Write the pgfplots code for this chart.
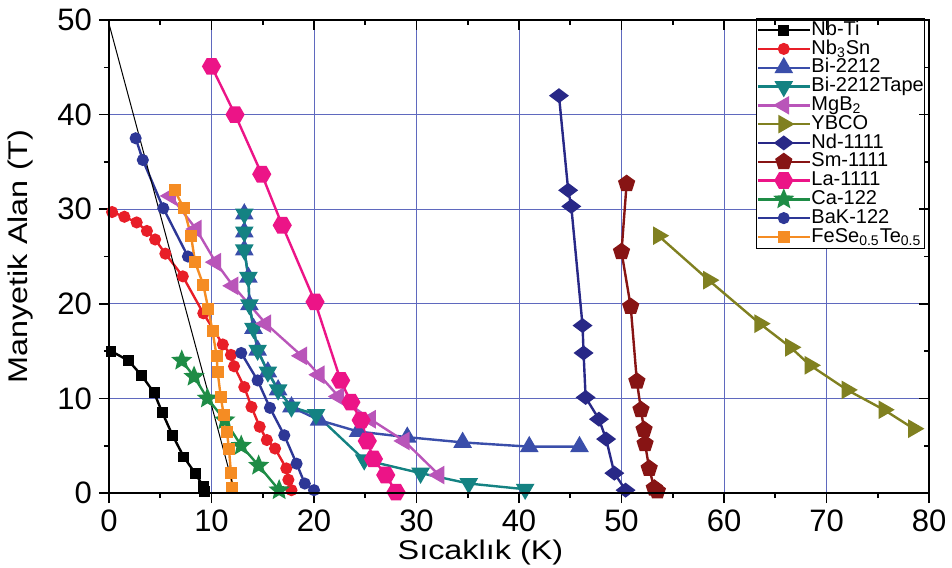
\documentclass[border=0pt]{standalone}
\usepackage{fontspec}
\setmainfont{Liberation Sans}
\newfontfamily\labelfont[FakeStretch=1.2]{Liberation Sans}
\usepackage{pgfplots}
\pgfplotsset{compat=1.18}
\usetikzlibrary{plotmarks}

\definecolor{nbsnred}{RGB}{232,30,40}
\definecolor{bitwo}{RGB}{58,78,170}
\definecolor{bitape}{RGB}{20,130,130}
\definecolor{mgbtwo}{RGB}{185,85,185}
\definecolor{ybco}{RGB}{128,128,32}
\definecolor{ndone}{RGB}{40,40,135}
\definecolor{smone}{RGB}{135,20,20}
\definecolor{laone}{RGB}{236,20,135}
\definecolor{catwo}{RGB}{30,140,70}
\definecolor{baktwo}{RGB}{45,55,150}
\definecolor{fese}{RGB}{245,140,35}
\definecolor{gridblue}{RGB}{95,105,190}

% filled hexagon and five-pointed star marks
\pgfdeclareplotmark{hexagon*}{%
  \pgfpathmoveto{\pgfqpointpolar{0}{\pgfplotmarksize}}%
  \pgfpathlineto{\pgfqpointpolar{60}{\pgfplotmarksize}}%
  \pgfpathlineto{\pgfqpointpolar{120}{\pgfplotmarksize}}%
  \pgfpathlineto{\pgfqpointpolar{180}{\pgfplotmarksize}}%
  \pgfpathlineto{\pgfqpointpolar{240}{\pgfplotmarksize}}%
  \pgfpathlineto{\pgfqpointpolar{300}{\pgfplotmarksize}}%
  \pgfpathclose\pgfusepathqfillstroke}
\pgfdeclareplotmark{fstar*}{%
  \pgfpathmoveto{\pgfqpointpolar{90}{\pgfplotmarksize}}%
  \pgfpathlineto{\pgfqpointpolar{126}{0.45\pgfplotmarksize}}%
  \pgfpathlineto{\pgfqpointpolar{162}{\pgfplotmarksize}}%
  \pgfpathlineto{\pgfqpointpolar{198}{0.45\pgfplotmarksize}}%
  \pgfpathlineto{\pgfqpointpolar{234}{\pgfplotmarksize}}%
  \pgfpathlineto{\pgfqpointpolar{270}{0.45\pgfplotmarksize}}%
  \pgfpathlineto{\pgfqpointpolar{306}{\pgfplotmarksize}}%
  \pgfpathlineto{\pgfqpointpolar{342}{0.45\pgfplotmarksize}}%
  \pgfpathlineto{\pgfqpointpolar{18}{\pgfplotmarksize}}%
  \pgfpathlineto{\pgfqpointpolar{54}{0.45\pgfplotmarksize}}%
  \pgfpathclose\pgfusepathqfillstroke}

\begin{document}
\begin{tikzpicture}
\begin{axis}[
  name=ax, scale only axis, width=410pt, height=236.5pt,
  xmin=0, xmax=80, ymin=0, ymax=50,
  xtick={0,10,...,80}, ytick={0,10,...,50}, minor tick num=1,
  xtick pos=left, ytick pos=left, tick align=outside,
  major tick length=5pt, minor tick length=2.5pt,
  tick style={black, line width=0.8pt},
  grid=major, major grid style={gridblue, line width=0.5pt},
  axis line style={line width=1pt},
  /pgf/number format/assume math mode=true,
  ticklabel style={font=\fontsize{15.5}{16}\selectfont},
  xlabel={Sıcaklık (K)}, ylabel={Manyetik Alan (T)},
  every axis x label/.style={at={(axis description cs:0.453,-0.126)}, anchor=center,
    inner sep=1pt, font=\labelfont\fontsize{13.5}{14}\selectfont},
  every axis y label/.style={at={(axis description cs:-0.1085,0.5)}, rotate=90, anchor=center,
    inner sep=1pt, font=\labelfont\fontsize{13.5}{14}\selectfont},
  unbounded coords=jump,
  every axis plot/.append style={line width=1.2pt},
  every mark/.append style={solid},
  legend cell align=left,
  legend image code/.code={\draw[mark repeat=2,mark phase=2] plot coordinates {(0pt,0pt) (13pt,0pt) (26pt,0pt)};},
  legend style={at={(0.995,1.004)}, anchor=north east, draw=black, line width=0.6pt,
    fill=white, font=\fontsize{10}{10}\selectfont, row sep=0pt,
    inner xsep=0pt, inner ysep=1pt,
    nodes={inner sep=0.25pt, text height=7pt, text depth=1.9pt}},
]
% Nb-Ti
\addplot[black, mark=square*, mark size=2.1pt] coordinates {
  (0.2,15.0) (1.9,14.0) (3.2,12.4) (4.4,10.6) (5.2,8.5) (6.2,6.1)
  (7.3,3.8) (8.4,2.1) (9.2,0.7) (9.3,0.2)};
\addlegendentry{Nb-Ti}
% Nb3Sn
\addplot[nbsnred, mark=*, mark size=2.4pt] coordinates {
  (0.3,29.7) (1.5,29.2) (2.7,28.6) (3.7,27.7) (4.5,26.8) (5.5,25.3)
  (7.2,22.9) (9.2,19.0) (11.1,15.7) (11.9,14.6) (12.2,13.4) (13.2,11.2)
  (13.9,9.1) (14.7,7.0) (15.4,5.6) (16.2,4.7) (17.3,2.6) (17.5,1.4) (17.8,0.3)};
\addlegendentry{Nb\textsubscript{3}Sn}
% Bi-2212
\addplot[bitwo, mark=triangle*, mark size=4.2pt] coordinates {
  (13.2,29.5) (13.2,27.6) (13.2,25.7) (13.6,22.8) (13.7,19.9) (14.1,17.4)
  (14.5,15.1) (15.5,12.8) (16.5,10.9) (17.8,9.1) (20.5,7.7) (24.3,6.5)
  (29.1,5.9) (34.5,5.35) (41.0,4.9) (45.9,4.9)};
\addlegendentry{Bi-2212}
% Bi-2212 tape
\addplot[bitape, mark=triangle*, mark size=4.2pt, mark options={rotate=180}] coordinates {
  (13.2,29.5) (13.2,27.6) (13.2,25.7) (13.6,22.8) (13.7,19.9) (14.1,17.4)
  (14.5,15.1) (15.5,12.8) (16.5,10.9) (17.8,9.1) (20.2,8.3) (24.9,3.5)
  (30.4,2.1) (35.1,1.0) (40.6,0.4)};
\addlegendentry{Bi-2212Tape}
% MgB2
\addplot[mgbtwo, mark=triangle*, mark size=4.2pt, mark options={rotate=90}] coordinates {
  (6.0,31.4) (8.5,27.9) (10.4,24.4) (12.1,21.9) (15.3,17.9) (18.8,14.5)
  (20.5,12.5) (22.4,10.2) (25.5,7.8) (28.8,5.5) (32.2,1.9)};
\addlegendentry{MgB\textsubscript{2}}
% YBCO
\addplot[ybco, mark=triangle*, mark size=4.2pt, mark options={rotate=-90}] coordinates {
  (53.6,27.2) (58.5,22.5) (63.5,17.9) (66.5,15.4) (68.4,13.5) (72.0,10.9)
  (75.6,8.8) (78.5,6.8)};
\addlegendentry{YBCO}
% Nd-1111
\addplot[ndone, mark=diamond*, mark size=4pt, mark options={rotate=90}] coordinates {
  (43.9,42.0) (44.8,32.0) (45.1,30.3) (46.2,17.7) (46.3,14.8) (46.5,10.1)
  (47.8,7.8) (48.5,5.7) (49.3,2.1) (50.4,0.3)};
\addlegendentry{Nd-1111}
% Sm-1111
\addplot[smone, mark=pentagon*, mark size=3.8pt] coordinates {
  (50.5,32.7) (50.0,25.5) (50.9,19.7) (51.5,11.8) (51.9,8.8) (52.2,6.7)
  (52.3,5.2) (52.7,2.6) (53.2,0.5) (53.5,0.2)};
\addlegendentry{Sm-1111}
% La-1111
\addplot[laone, mark=hexagon*, mark size=4.1pt] coordinates {
  (10.0,45.1) (12.3,40.0) (14.9,33.7) (16.9,28.3) (20.1,20.2) (22.6,11.9)
  (23.6,9.6) (24.6,7.7) (25.2,5.5) (25.8,3.6) (27.0,1.9) (28.0,0.1)};
\addlegendentry{La-1111}
% Ca-122
\addplot[catwo, mark=fstar*, mark size=4pt] coordinates {
  (7.1,14.0) (8.3,12.3) (9.6,10.0) (11.3,7.7) (12.9,5.0) (14.6,2.9) (16.6,0.3)};
\addlegendentry{Ca-122}
% BaK-122 (two separate measurement branches)
\addplot[baktwo, mark=*, mark size=2.4pt] coordinates {
  (2.6,37.5) (3.3,35.2) (5.3,30.1) (7.7,25.0) (nan,nan)
  (12.9,14.8) (14.5,11.9) (15.7,9.0) (17.1,6.1) (18.3,3.1) (19.1,1.0) (20.0,0.3)};
\addlegendentry{BaK-122}
% FeSe0.5Te0.5
\addplot[fese, mark=square*, mark size=2.4pt] coordinates {
  (6.4,32.0) (7.3,30.1) (8.0,27.2) (8.4,24.4) (9.2,22.0) (9.7,19.4)
  (10.1,17.1) (10.5,14.5) (10.6,12.8) (10.9,10.2) (11.2,8.2) (11.5,6.5)
  (11.7,4.7) (11.9,2.1) (12.0,0.5)};
\addlegendentry{FeSe\textsubscript{0.5}Te\textsubscript{0.5}}
% thin reference line
\addplot[black, line width=0.5pt, no marks, forget plot] coordinates {(0,49.6) (12.1,0.8)};
\end{axis}
% inward ticks on the top and right edges
\begin{axis}[
  scale only axis, width=410pt, height=236.5pt,
  xmin=0, xmax=80, ymin=0, ymax=50,
  xtick={0,10,...,80}, ytick={0,10,...,50}, minor tick num=1,
  xtick pos=right, ytick pos=right, tick align=inside,
  major tick length=5pt, minor tick length=2.5pt,
  tick style={black, line width=0.8pt},
  xticklabels={}, yticklabels={},
  axis line style={line width=1pt},
]
\end{axis}
\pgfresetboundingbox
\path ([shift={(-54.5pt,-37pt)}]ax.south west) rectangle ([shift={(11.5pt,10pt)}]ax.north east);
\end{tikzpicture}
\end{document}
